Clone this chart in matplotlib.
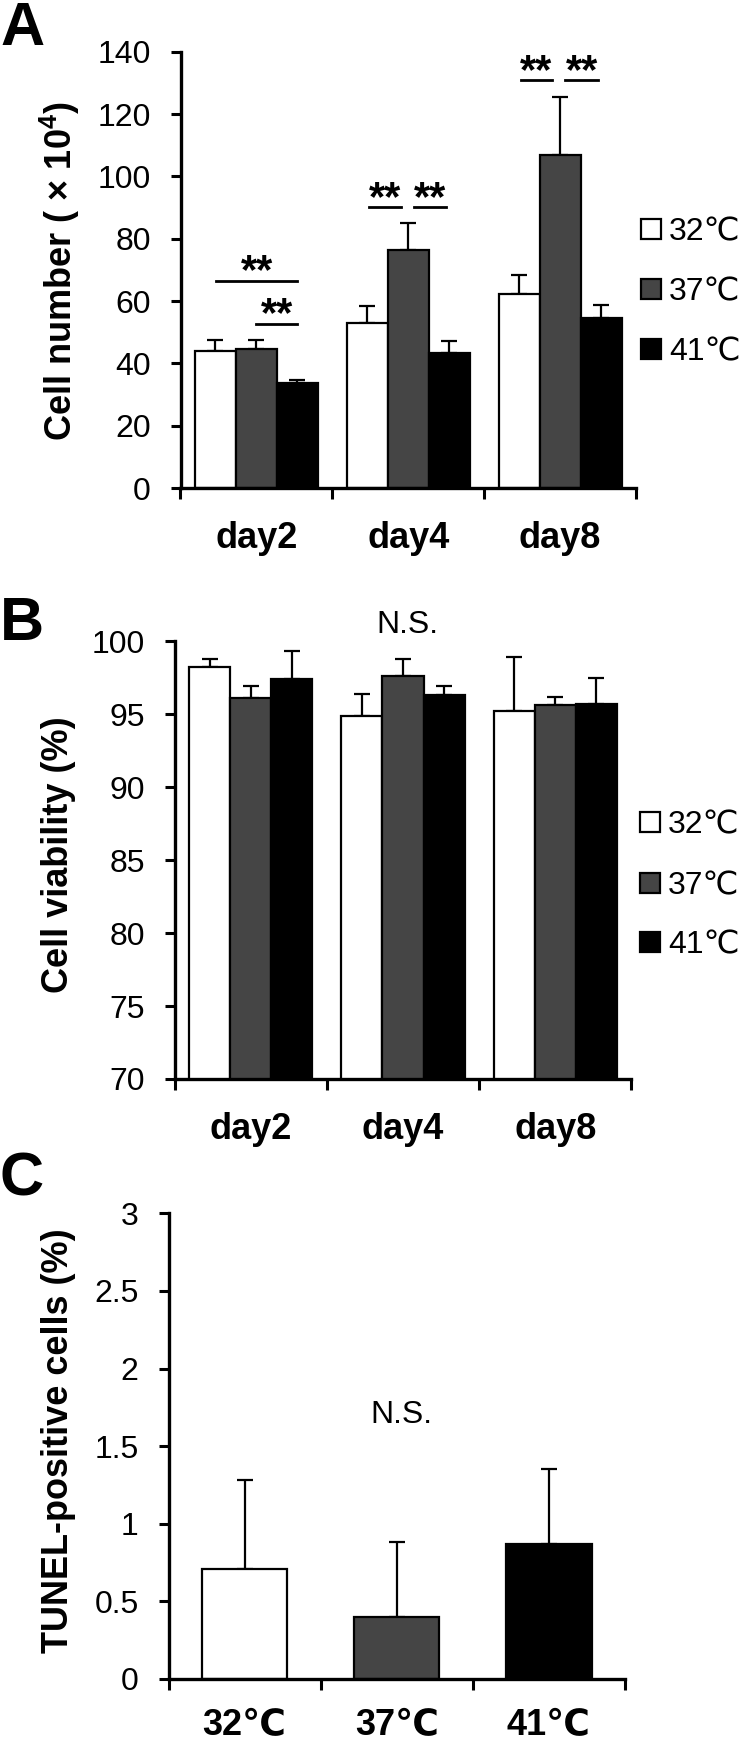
import matplotlib
matplotlib.use("Agg")
import matplotlib.pyplot as plt
import numpy as np

plt.rcParams["font.family"] = ["Liberation Sans", "DejaVu Sans"]
plt.rcParams["mathtext.fontset"] = "custom"
plt.rcParams["mathtext.rm"] = "Liberation Sans"
plt.rcParams["mathtext.bf"] = "Liberation Sans:bold"

# ---- data ----
days = ["day2", "day4", "day8"]
temps = ["32℃", "37℃", "41℃"]
colors = ["white", "#454545", "black"]

# A: cell number (x10^4)
num_32 = [44.1, 52.8, 62.1]
num_37 = [44.7, 76.3, 106.9]
num_41 = [33.6, 43.4, 54.4]
num_32_sd = [3.4, 5.7, 6.4]
num_37_sd = [2.8, 8.6, 18.5]
num_41_sd = [0.9, 3.8, 4.3]

# B: cell viability (%)
via_32 = [98.2, 94.9, 95.2]
via_37 = [96.1, 97.6, 95.6]
via_41 = [97.4, 96.3, 95.7]
via_32_sd = [0.6, 1.45, 3.7]
via_37_sd = [0.85, 1.2, 0.6]
via_41_sd = [1.9, 0.65, 1.8]

# C: TUNEL-positive cells (%)
tunel = [0.71, 0.40, 0.87]
tunel_sd = [0.57, 0.48, 0.48]

# significance marks for A: group, line start/end (offset from group centre), line height
sig_group = [0, 0, 1, 1, 2, 2]
sig_x0 = [-0.265, 0.0, -0.26, 0.035, -0.26, 0.035]
sig_x1 = [0.27, 0.27, -0.05, 0.25, -0.05, 0.25]
sig_y = [66.5, 52.7, 90.2, 90.2, 130.9, 130.9]

W, H = 740, 1743
fig = plt.figure(figsize=(W / 100, H / 100), dpi=100)


def px_axes(left, right, top, bottom):
    return fig.add_axes([left / W, 1 - bottom / H, (right - left) / W, (bottom - top) / H])


def style_axes(ax, labels, pad_x=24):
    for s in ["top", "right"]:
        ax.spines[s].set_visible(False)
    for s in ["left", "bottom"]:
        ax.spines[s].set_linewidth(2.4)
    ax.set_xlim(-0.5, 2.5)
    ax.set_xticks([-0.5, 0.5, 1.5, 2.5])
    ax.set_xticklabels([])
    ax.set_xticks([0, 1, 2], minor=True)
    ax.set_xticklabels(labels, minor=True, fontsize=26, fontweight="bold")
    ax.tick_params(axis="x", which="major", direction="out", length=8, width=2.2)
    ax.tick_params(axis="x", which="minor", length=0, pad=pad_x)
    ax.tick_params(axis="y", direction="out", length=7.5, width=2.2,
                   labelsize=23, pad=14)


def grouped(ax, series, sds):
    x = np.arange(len(days))
    w = 0.27
    handles = []
    for i, (vals, sd) in enumerate(zip(series, sds)):
        pos = x + (i - 1) * w
        b = ax.bar(pos, vals, w, color=colors[i], edgecolor="black",
                   linewidth=1.6, label=temps[i], zorder=2)
        ax.errorbar(pos, vals, yerr=[np.zeros(len(vals)), sd], fmt="none",
                    ecolor="black", elinewidth=1.6, capsize=5.5, capthick=1.6,
                    zorder=1)
        handles.append(b)
    return handles


def add_legend(handles, x_px, rows_px):
    # one small legend per row so that the row spacing is exact
    for h, t, y in zip(handles, temps, rows_px):
        fig.legend(handles=[h], labels=[t], loc="center left",
                   bbox_to_anchor=(x_px / W, 1 - y / H),
                   bbox_transform=fig.transFigure, frameon=False, fontsize=23,
                   handlelength=0.62, handleheight=0.58, handletextpad=0.25,
                   borderpad=0, borderaxespad=0)


# ---- A ----
axA = px_axes(180.5, 636, 51.7, 488)
hA = grouped(axA, [num_32, num_37, num_41], [num_32_sd, num_37_sd, num_41_sd])
axA.set_ylim(0, 140)
axA.set_yticks(np.arange(0, 141, 20))
style_axes(axA, days)
for g, a, b, y in zip(sig_group, sig_x0, sig_x1, sig_y):
    axA.plot([g + a, g + b], [y, y], color="black", lw=2, clip_on=False)
    axA.annotate("**", xy=((2 * g + a + b) / 2, y), xytext=(0, -2),
                 textcoords="offset points", ha="center", va="baseline",
                 fontsize=30, fontweight="bold", annotation_clip=False)
add_legend(hA, 641, [232, 292, 352])
fig.text(60 / W, 1 - 271 / H, r"Cell number ( × $\mathbf{10^{4}}$)", rotation=90,
         ha="center", va="center", fontsize=26, fontweight="bold")
fig.text(0, 1 - 45 / H, "A", fontsize=44, fontweight="bold", va="baseline")

# ---- B ----
axB = px_axes(174.6, 631.4, 641.2, 1079)
hB = grouped(axB, [via_32, via_37, via_41], [via_32_sd, via_37_sd, via_41_sd])
axB.set_ylim(70, 100)
axB.set_yticks(np.arange(70, 101, 5))
style_axes(axB, days)
axB.text(1.03, 101.1, "N.S.", ha="center", va="center", fontsize=23,
         clip_on=False)
add_legend(hB, 640, [825, 886, 945])
fig.text(59 / W, 1 - 855 / H, "Cell viability (%)", rotation=90,
         ha="center", va="center", fontsize=26, fontweight="bold")
fig.text(0, 1 - 640 / H, "B", fontsize=44, fontweight="bold", va="baseline")

# ---- C ----
axC = px_axes(168.5, 625, 1213.3, 1679)
xc = np.arange(len(temps))
axC.bar(xc, tunel, 0.56, color=colors, edgecolor="black", linewidth=1.6, zorder=2)
axC.errorbar(xc, tunel, yerr=[np.zeros(len(tunel)), tunel_sd], fmt="none",
             ecolor="black", elinewidth=1.6, capsize=5.5, capthick=1.6, zorder=1)
axC.set_ylim(0, 3)
axC.set_yticks([0, 0.5, 1, 1.5, 2, 2.5, 3])
axC.set_yticklabels(["0", "0.5", "1", "1.5", "2", "2.5", "3"])
style_axes(axC, temps, pad_x=21)
axC.text(1.03, 1.70, "N.S.", ha="center", va="center", fontsize=23)
fig.text(59 / W, 1 - 1441 / H, "TUNEL-positive cells (%)", rotation=90,
         ha="center", va="center", fontsize=26, fontweight="bold")
fig.text(0, 1 - 1195 / H, "C", fontsize=44, fontweight="bold", va="baseline")

fig.savefig("out.png", dpi=100)
